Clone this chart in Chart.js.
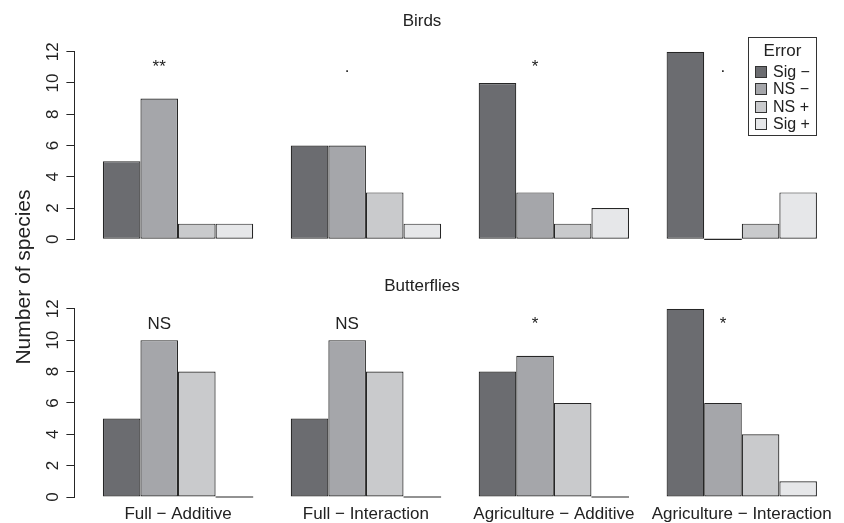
<!DOCTYPE html>
<html>
<head>
<meta charset="utf-8">
<script src="https://cdn.jsdelivr.net/npm/chart.js@4.4.1/dist/chart.umd.min.js"></script>
<style>
    html, body { margin: 0; padding: 0; background: #fff; }
    #page { position: relative; width: 844px; height: 523px; overflow: hidden; font-family: 'Liberation Sans', Arial, Helvetica, sans-serif; color: #222; }
    .panel { position: absolute; left: 0; width: 844px; }
    #top-panel { top: 0; height: 262px; }
    #bottom-panel { top: 262px; height: 261px; }
    #y-title { position: absolute; left: -77.5px; top: 265px; width: 200px; height: 24px; line-height: 24px; text-align: center; font-size: 21px; transform: rotate(-90deg); }
    #legend { position: absolute; left: 748px; top: 37px; width: 67px; height: 97px; border: 1px solid #333; font-size: 16px; }
    #legend .ttl { text-align: center; margin-top: 2px; height: 23px; line-height: 22px; font-size: 17px; }
    #legend .row { height: 17.3px; line-height: 17.3px; white-space: nowrap; }
    #legend .sw { display: inline-block; width: 10px; height: 10px; border: 1px solid #333; margin-left: 6px; margin-right: 6px; vertical-align: -1px; }
</style>
</head>
<body>
<div id="page">
    <div class="panel" id="top-panel"><canvas id="birdsChart"></canvas></div>
    <div class="panel" id="bottom-panel"><canvas id="butterfliesChart"></canvas></div>
    <div id="y-title">Number of species</div>
    <div id="legend"></div>
</div>
<script>
// ===== DATA =====
const groups = ['Full − Additive', 'Full − Interaction', 'Agriculture − Additive', 'Agriculture − Interaction'];
const errorTypes = ['Sig −', 'NS −', 'NS +', 'Sig +'];
const errorColors = ['#6b6c70', '#a5a6aa', '#c9cacc', '#e6e7e9'];
const yTicks = [0, 2, 4, 6, 8, 10, 12];

const birdsSigNeg = [5, 6, 10, 12];
const birdsNsNeg = [9, 6, 3, 0];
const birdsNsPos = [1, 3, 1, 1];
const birdsSigPos = [1, 1, 2, 3];
const birdsMarks = ['**', '.', '*', '.'];

const butterfliesSigNeg = [5, 5, 8, 12];
const butterfliesNsNeg = [10, 10, 9, 6];
const butterfliesNsPos = [8, 8, 6, 4];
const butterfliesSigPos = [0, 0, 0, 1];
const butterfliesMarks = ['NS', 'NS', '*', '*'];

const MARK_LEVEL = 11;
const FONT = "'Liberation Sans', Arial, Helvetica, sans-serif";
const INK = '#222';
const EDGE = '#262626';

Chart.defaults.font.family = FONT;
Chart.defaults.font.size = 17;
Chart.defaults.color = INK;

// ===== PLUGINS =====
// zero-height bars get drawn as a flat line like R does
const zeroBarPlugin = {
    id: 'zeroBars',
    afterDatasetsDraw(chart) {
        const ctx = chart.ctx;
        ctx.save();
        ctx.strokeStyle = EDGE;
        ctx.lineWidth = 1.2;
        chart.data.datasets.forEach((ds, di) => {
            const meta = chart.getDatasetMeta(di);
            meta.data.forEach((bar, i) => {
                if (meta._parsed[i].y !== 0) return;
                ctx.beginPath();
                ctx.moveTo(bar.x - bar.width / 2, bar.base);
                ctx.lineTo(bar.x + bar.width / 2, bar.base);
                ctx.stroke();
            });
        });
        ctx.restore();
    }
};

// significance marks above the second bar of each group
const marksPlugin = {
    id: 'marks',
    afterDatasetsDraw(chart, args, opts) {
        const ctx = chart.ctx;
        const meta = chart.getDatasetMeta(1);
        const y = chart.scales.y.getPixelForValue(MARK_LEVEL);
        ctx.save();
        ctx.font = '17px ' + FONT;
        ctx.fillStyle = INK;
        ctx.textAlign = 'center';
        ctx.textBaseline = 'middle';
        opts.labels.forEach((txt, i) => {
            ctx.fillText(txt, meta.data[i].x, y);
        });
        ctx.restore();
    }
};

function makeDatasets(seriesList) {
    return seriesList.map((values, k) => ({
        label: errorTypes[k],
        data: values.map((v, i) => ({ x: i, y: v })),
        backgroundColor: errorColors[k],
        borderColor: EDGE,
        borderWidth: 1.2,
        borderSkipped: false,
        categoryPercentage: 0.8,
        barPercentage: 1.0
    }));
}

function createPanel(canvasId, title, seriesList, marks, opts) {
    const ctx = document.getElementById(canvasId);
    return new Chart(ctx.getContext('2d'), {
        type: 'bar',
        data: { datasets: makeDatasets(seriesList) },
        plugins: [zeroBarPlugin, marksPlugin],
        options: {
            responsive: true,
            maintainAspectRatio: false,
            animation: false,
            layout: { padding: 0 },
            plugins: {
                legend: { display: false },
                tooltip: { enabled: false },
                title: {
                    display: true,
                    text: title,
                    color: INK,
                    font: { size: 17, weight: 'normal' },
                    padding: opts.titlePadding
                },
                marks: { labels: marks }
            },
            scales: {
                x: {
                    type: 'linear',
                    bounds: 'data',
                    offset: false,
                    min: -0.5514,
                    max: 3.544,
                    grid: { display: false, drawTicks: false, offset: false },
                    border: { display: false },
                    afterBuildTicks: (scale) => {
                        scale.ticks = groups.map((g, i) => ({ value: i }));
                    },
                    afterFit: (scale) => { scale.height = opts.xHeight; },
                    ticks: {
                        display: opts.showGroups,
                        padding: 7,
                        maxRotation: 0,
                        autoSkip: false,
                        color: INK,
                        callback: (v) => groups[v]
                    }
                },
                y: {
                    min: 0,
                    max: 12,
                    afterBuildTicks: (scale) => {
                        scale.ticks = yTicks.map(v => ({ value: v }));
                    },
                    afterFit: (scale) => { scale.width = 74.4; },
                    grid: {
                        drawOnChartArea: false,
                        drawTicks: true,
                        tickLength: 8,
                        color: EDGE
                    },
                    border: { display: true, color: EDGE, width: 1 },
                    ticks: {
                        minRotation: 90,
                        maxRotation: 90,
                        crossAlign: 'center',
                        padding: 3.5,
                        color: INK
                    }
                }
            }
        }
    });
}

// ===== LEGEND =====
function buildLegend() {
    const box = document.getElementById('legend');
    let html = '<div class="ttl">Error</div>';
    errorTypes.forEach((name, k) => {
        html += `<div class="row"><span class="sw" style="background:${errorColors[k]}"></span>${name}</div>`;
    });
    box.innerHTML = html;
}

// ===== INITIALIZE =====
createPanel('birdsChart', 'Birds',
    [birdsSigNeg, birdsNsNeg, birdsNsPos, birdsSigPos], birdsMarks,
    { titlePadding: { top: 10.8, bottom: 20.5 }, xHeight: 22.7, showGroups: false });

createPanel('butterfliesChart', 'Butterflies',
    [butterfliesSigNeg, butterfliesNsNeg, butterfliesNsPos, butterfliesSigPos], butterfliesMarks,
    { titlePadding: { top: 13.8, bottom: 12.6 }, xHeight: 26, showGroups: true });

buildLegend();
</script>
</body>
</html>
